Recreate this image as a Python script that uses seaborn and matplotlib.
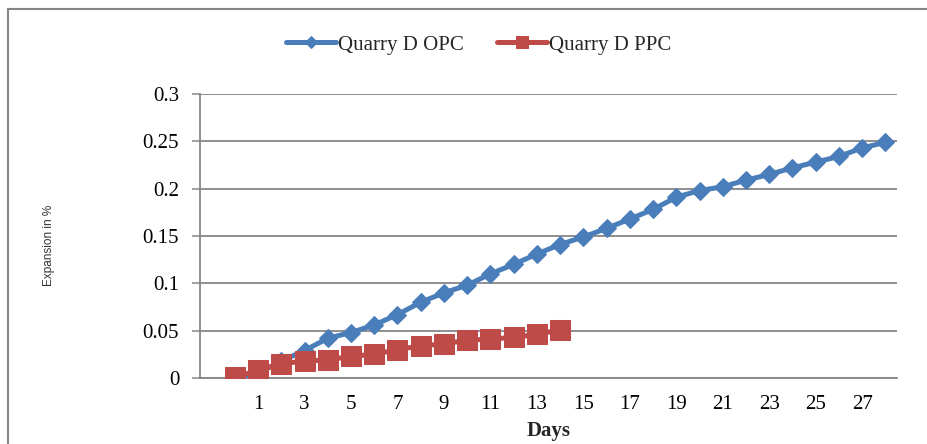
import matplotlib
matplotlib.use("Agg")
import matplotlib.pyplot as plt
from matplotlib.patches import Rectangle
import pandas as pd
import seaborn as sns

days_opc = list(range(0, 29))
opc_values = [0.0, 0.005, 0.018, 0.029, 0.042, 0.048, 0.056, 0.067, 0.080, 0.090,
              0.098, 0.110, 0.120, 0.131, 0.141, 0.149, 0.158, 0.168, 0.178, 0.191,
              0.198, 0.202, 0.209, 0.215, 0.222, 0.228, 0.234, 0.243, 0.249]

days_ppc = list(range(0, 15))
ppc_values = [0.001, 0.008, 0.015, 0.018, 0.019, 0.023, 0.025, 0.030, 0.034, 0.036,
              0.040, 0.041, 0.043, 0.046, 0.051]

series_names = ["Quarry D OPC", "Quarry D PPC"]
xtick_days = list(range(1, 28, 2))
ytick_values = [0, 0.05, 0.1, 0.15, 0.2, 0.25, 0.3]
ytick_labels = ["0", "0.05", "0.1", "0.15", "0.2", "0.25", "0.3"]

BLUE = "#4A7EBB"
RED = "#BE4B48"
GRAY = "#868686"


def make_chart():
    sns.set_theme(style="white")
    plt.rcParams["font.family"] = ["Liberation Serif", "DejaVu Serif"]

    fig = plt.figure(figsize=(9.28, 4.44), dpi=100)
    ax = fig.add_axes([200 / 928, 1 - 378 / 444, 697 / 928, 284 / 444])

    opc_df = pd.DataFrame({"day": days_opc, "value": opc_values})
    ppc_df = pd.DataFrame({"day": days_ppc, "value": ppc_values})

    sns.lineplot(data=opc_df, x="day", y="value", ax=ax, color=BLUE, lw=3.6,
                 marker="D", markersize=9.5, markeredgecolor=BLUE,
                 label=series_names[0], zorder=3)
    sns.lineplot(data=ppc_df, x="day", y="value", ax=ax, color=RED, lw=3.6,
                 marker="s", markersize=14.5, markeredgecolor=RED,
                 label=series_names[1], zorder=4)

    ax.set_xlim(-1.5, 28.5)
    ax.set_ylim(0, 0.3)
    ax.set_xticks(xtick_days)
    ax.set_xticklabels([str(d) for d in xtick_days])
    ax.set_xticks([k - 0.5 for k in range(-1, 30)], minor=True)
    ax.set_yticks(ytick_values)
    ax.set_yticklabels(ytick_labels)

    ax.tick_params(axis="x", which="major", length=0, pad=12, labelsize=15, colors="black")
    ax.tick_params(axis="x", which="minor", length=5, width=1.1, color=GRAY, direction="out")
    ax.tick_params(axis="y", length=6, width=1.1, color=GRAY, direction="out",
                   pad=9, labelsize=15, labelcolor="black", left=True)

    ax.yaxis.grid(True, color=GRAY, lw=1.3)
    ax.xaxis.grid(False)
    for side in ["top", "right"]:
        ax.spines[side].set_visible(False)
    for side in ["left", "bottom"]:
        ax.spines[side].set_color(GRAY)
        ax.spines[side].set_linewidth(1.3)

    ax.set_xlabel("Days", fontsize=15, fontweight="bold", labelpad=5)
    ax.set_ylabel("")

    # y label is a squeezed sans font in the original
    fig.text(49 / 928, 1 - 245 / 444, "Expansion in %", rotation=90,
             family=["Liberation Sans", "DejaVu Sans"], fontsize=8.5,
             color="#333333", ha="center", va="center")

    handles, labels = ax.get_legend_handles_labels()
    ax.legend_.remove()
    fig.legend(handles, labels, loc="center", bbox_to_anchor=(0.516, 1 - 45 / 444),
               ncol=2, frameon=False, fontsize=15, handlelength=2.4,
               handletextpad=0.1, columnspacing=1.6, markerscale=0.6)

    fig.patches.append(Rectangle((8 / 928, -0.1), 1.2, 1.1 - 9 / 444,
                                 transform=fig.transFigure, fill=False,
                                 edgecolor=GRAY, lw=1.5))

    fig.savefig("out.png", dpi=100)
    plt.close(fig)


if __name__ == "__main__":
    make_chart()
